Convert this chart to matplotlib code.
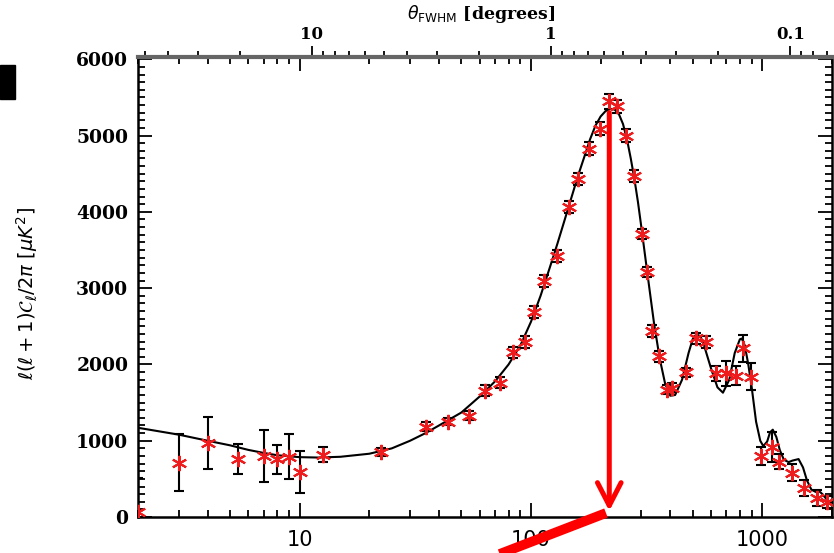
import numpy as np
import matplotlib
matplotlib.use("Agg")
import matplotlib.pyplot as plt
from matplotlib.ticker import MultipleLocator, LogLocator, FixedLocator, NullFormatter
from matplotlib.lines import Line2D
from matplotlib.patches import Rectangle

# binned power spectrum
ell = [2, 3, 4, 5.4, 7, 8, 9, 10, 12.6, 22.4, 35, 43.6, 53.7, 63, 73.8, 84, 94.6,
       103.5, 114, 129, 146.5, 160, 179, 198, 218, 236, 258, 280, 302, 316, 335,
       359, 389, 408, 470, 519, 573, 631, 700, 772, 828, 896, 990, 1097, 1183,
       1349, 1515, 1731, 1908]
cl = [70, 710, 970, 760, 800, 760, 790, 590, 815, 855, 1184, 1250, 1330, 1658,
      1763, 2158, 2290, 2684, 3092, 3421, 4066, 4434, 4829, 5092, 5447, 5382,
      5000, 4474, 3710, 3210, 2434, 2105, 1671, 1697, 1895, 2342, 2290, 1882,
      1882, 1855, 2210, 1842, 803, 921, 724, 579, 382, 250, 197]
cl_err = [440, 375, 335, 200, 340, 190, 295, 280, 100, 50, 60, 50, 60, 70, 70,
          70, 80, 80, 80, 80, 80, 80, 80, 90, 100, 90, 80, 80, 70, 70, 80, 70,
          60, 60, 60, 70, 80, 100, 160, 130, 180, 180, 120, 200, 100, 110, 100,
          100, 80]

# best-fit model curve
ell_model = [2, 3, 4, 5, 6, 7, 8, 10, 12, 15, 20, 25, 30, 35, 40, 50, 60, 70,
             80, 90, 100, 110, 120, 130, 140, 150, 160, 170, 180, 190, 200, 210,
             220, 230, 240, 250, 260, 270, 280, 290, 300, 320, 340, 360, 380,
             400, 420, 450, 480, 500, 519, 540, 560, 600, 640, 676, 720, 760,
             800, 815, 840, 870, 900, 940, 980, 1010, 1050, 1080, 1110, 1150,
             1190, 1240, 1300, 1350, 1435, 1500, 1560, 1630, 1700, 1760, 1820,
             1900, 2000]
cl_model = [1170, 1080, 1000, 940, 880, 840, 810, 785, 780, 790, 830, 900, 1000,
            1100, 1200, 1370, 1580, 1780, 2000, 2250, 2560, 2900, 3250, 3580,
            3900, 4200, 4480, 4720, 4950, 5130, 5250, 5320, 5350, 5340, 5280,
            5150, 4950, 4700, 4430, 4130, 3800, 3150, 2550, 2080, 1750, 1590,
            1600, 1800, 2150, 2330, 2395, 2370, 2250, 1950, 1700, 1630, 1800,
            2150, 2330, 2340, 2250, 2000, 1700, 1250, 1000, 930, 990, 1110,
            1145, 1050, 880, 750, 720, 740, 760, 650, 480, 360, 330, 340, 300,
            230, 180]

arrow_ell = 218

fig = plt.figure(figsize=(8.34, 5.53), dpi=100)
ax = fig.add_axes([0.1655, 0.065, 0.832, 0.832])

ax.plot(ell_model, cl_model, color="black", lw=1.5, zorder=2)
ax.errorbar(ell, cl, yerr=cl_err, fmt="none", ecolor="black", elinewidth=1.5,
            capsize=3.5, capthick=1.5, zorder=3)
ax.plot(ell, cl, ls="none", marker=(6, 2, 0), ms=11, mew=1.5, color="#ee1c1c",
        zorder=4)

ax.set_xscale("log")
ax.set_xlim(2, 2000)
ax.set_ylim(0, 6030)

ax.yaxis.set_major_locator(MultipleLocator(1000))
ax.yaxis.set_minor_locator(MultipleLocator(100))
ax.xaxis.set_major_locator(FixedLocator([10, 100, 1000]))
ax.xaxis.set_minor_locator(LogLocator(base=10, subs=np.arange(2, 10)))
ax.xaxis.set_minor_formatter(NullFormatter())
ax.set_xticklabels(["10", "100", "1000"])

ax.tick_params(axis="both", which="both", direction="in", top=True, right=True,
               width=1.3, color="black")
ax.tick_params(axis="both", which="major", length=10)
ax.tick_params(axis="both", which="minor", length=5)
ax.tick_params(axis="x", which="major", labelsize=15, pad=9)
ax.tick_params(axis="y", which="major", labelsize=13.5, pad=7)
for lab in ax.get_yticklabels():
    lab.set_fontweight("bold")
    lab.set_family("DejaVu Serif")

for s in ["left", "bottom", "right"]:
    ax.spines[s].set_linewidth(1.8)
ax.spines["top"].set_linewidth(3)
ax.spines["top"].set_color("#666666")

ax.set_ylabel(r"$\ell(\ell+1)\mathcal{C}_\ell/2\pi\ [\mu K^2]$", fontsize=14)
ax.yaxis.set_label_coords(-0.141, 0.486)


# top axis: beam width in degrees
def to_theta(x):
    x = np.clip(np.asarray(x, dtype=float), 1e-6, None)
    return 10 ** (2.018 - 0.967 * np.log10(x))


def to_ell(t):
    t = np.clip(np.asarray(t, dtype=float), 1e-6, None)
    return 10 ** ((2.018 - np.log10(t)) / 0.967)


sec = ax.secondary_xaxis("top", functions=(to_theta, to_ell))
sec.set_xticks([10, 1, 0.1], labels=["10", "1", "0.1"])
sec.xaxis.set_minor_locator(LogLocator(base=10, subs=np.arange(2, 10)))
sec.xaxis.set_minor_formatter(NullFormatter())
sec.tick_params(which="both", direction="out", width=1.3)
sec.tick_params(which="major", length=8, labelsize=12, pad=2)
sec.tick_params(which="minor", length=4)
for lab in sec.get_xticklabels():
    lab.set_fontweight("bold")
    lab.set_family("DejaVu Serif")
sec.spines["top"].set_visible(False)
fig.text(0.577, 0.974, r"$\theta_{\rm FWHM}$ [degrees]", ha="center", va="center",
         fontsize=12.5, fontweight="bold", family="DejaVu Serif")

# red annotation arrow pointing at the first peak
ax.annotate("", xy=(arrow_ell, 79), xytext=(arrow_ell, 5300),
            arrowprops=dict(arrowstyle="->,head_length=1.65,head_width=0.85",
                            lw=3.6, color="red", shrinkA=0, shrinkB=0,
                            mutation_scale=10), zorder=6)
fig.add_artist(Line2D([0.7266, 0.585], [0.0723, -0.01], color="red", lw=7,
                      solid_capstyle="butt", transform=fig.transFigure))

# cropped glyph at the upper left corner
fig.add_artist(Rectangle((0, 0.821), 0.018, 0.0615, color="black",
                         transform=fig.transFigure))

fig.savefig("out.png", dpi=100)
